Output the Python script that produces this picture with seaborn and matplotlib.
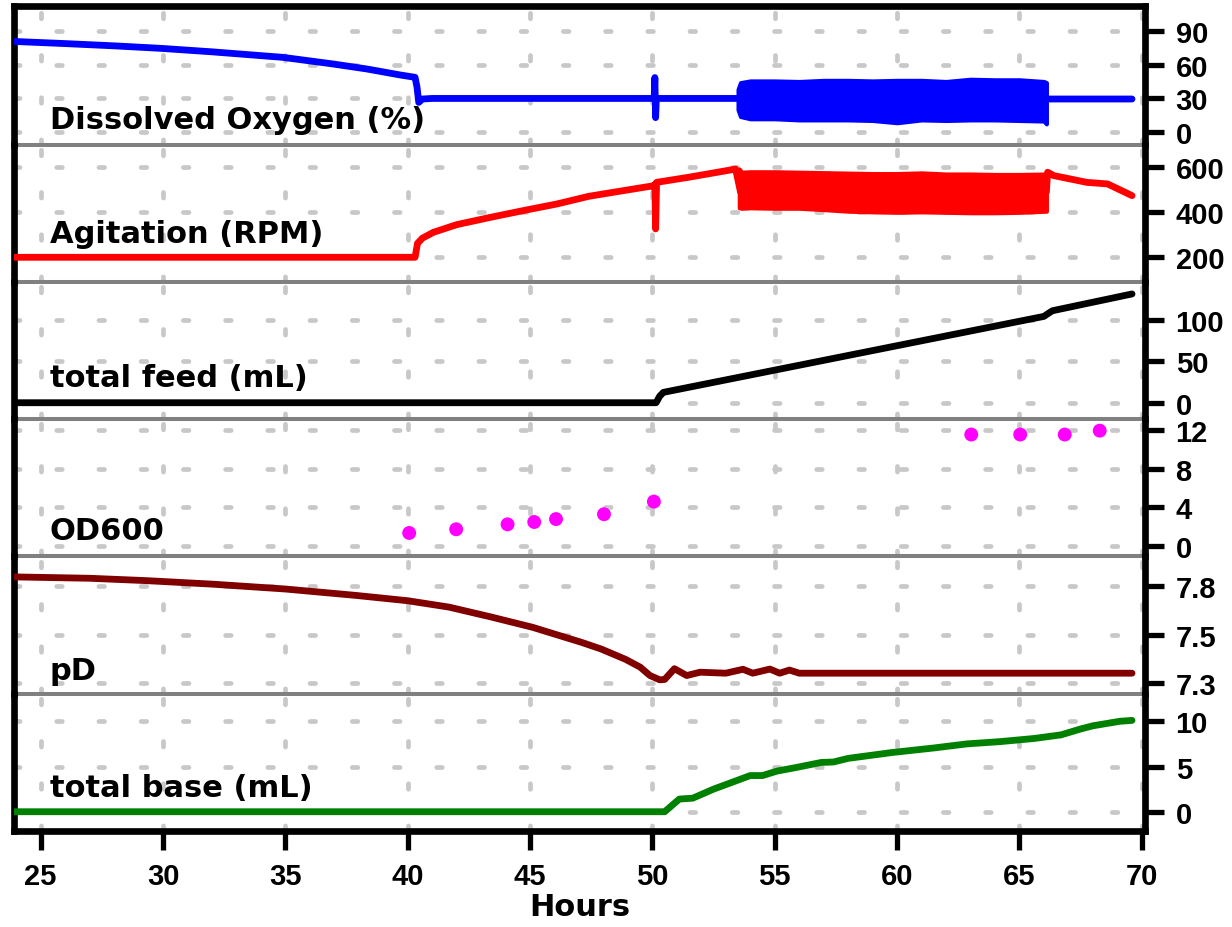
import numpy as np
import pandas as pd
import matplotlib
matplotlib.use("Agg")
import matplotlib.pyplot as plt
import seaborn as sns

# ---------------- data ----------------
x_ticks = [25, 30, 35, 40, 45, 50, 55, 60, 65, 70]
x_tick_labels = ["25", "30", "35", "40", "45", "50", "55", "60", "65", "70"]

# Dissolved oxygen (%)
do_hours = [23.9, 26.0, 28.0, 29.9, 32.0, 34.9, 36.96, 38.33, 39.69, 40.3, 40.38,
            40.45, 40.6, 41.0, 45.0, 50.07, 50.1, 50.13, 50.16, 53.5, 60.0, 66.1,
            66.2, 69.6]
do_values = [80.5, 78.6, 76.6, 74.4, 71.3, 66.4, 60.5, 56.1, 50.8, 48.7, 40.0,
             26.5, 29.5, 30.0, 30.0, 30.0, 48.5, 13.0, 30.0, 30.0, 30.0, 30.0,
             29.5, 29.5]
do_band_hours = [53.5, 53.6, 54, 55, 56, 57, 58, 59, 60, 61, 62, 63, 64, 65, 66.0, 66.1]
do_band_upper = [38, 44, 45.5, 45.5, 45, 46, 46, 45.5, 46, 46, 45, 47, 46.5, 46.5, 45, 44]
do_band_lower = [20, 14, 12, 12, 11, 11, 11, 10.5, 8.5, 11, 10.5, 11, 11, 10.5, 10, 7.5]

# Agitation (RPM)
agit_hours = [23.9, 40.3, 40.4, 40.6, 41.05, 42.0, 43.4, 44.7, 46.1, 47.4, 48.8,
              50.05, 50.1, 50.13, 50.17, 51.5, 53.4, 53.6, 60.0, 66.1, 66.15,
              66.4, 67.75, 68.6, 69.6]
agit_values = [200, 200, 262, 285, 311, 345, 378, 407, 437, 471, 496,
               518, 524, 326, 533, 556, 592, 490, 490, 490, 578,
               563, 533, 526, 474]
agit_band_hours = [53.55, 53.65, 54, 55, 56, 57, 58, 59, 60, 61, 62, 63, 64, 65, 66.1]
agit_band_upper = [592, 578, 580, 580, 578, 576, 574, 572, 572, 575, 570, 570, 568, 568, 570]
agit_band_lower = [420, 418, 420, 418, 418, 412, 405, 402, 400, 402, 400, 398, 398, 400, 405]

# total feed (mL)
feed_hours = [23.9, 50.15, 50.3, 50.45, 66.0, 66.2, 66.35, 69.6]
feed_values = [0, 0, 8, 12.5, 104, 108, 110.8, 131]

# OD600
od_hours = [40.06, 41.98, 44.08, 45.17, 46.06, 48.02, 50.06, 63.03, 65.03, 66.85, 68.28]
od_values = [1.37, 1.75, 2.26, 2.5, 2.8, 3.3, 4.6, 11.5, 11.5, 11.5, 11.9]

# pD
pd_hours = [23.9, 27.0, 29.3, 32.0, 35.0, 37.9, 40.0, 41.7, 43.4, 45.1, 47.1, 47.9,
            48.9, 49.5, 49.9, 50.3, 50.5, 50.9, 51.4, 51.95, 53.0, 53.7, 54.1,
            54.8, 55.2, 55.6, 56.0, 69.6]
pd_values = [7.845, 7.838, 7.826, 7.808, 7.783, 7.75, 7.723, 7.69, 7.64, 7.587, 7.51, 7.476,
             7.423, 7.383, 7.34, 7.318, 7.32, 7.375, 7.34, 7.357, 7.352, 7.372, 7.352,
             7.373, 7.352, 7.368, 7.352, 7.352]

# total base (mL)
base_hours = [23.9, 50.5, 51.1, 51.65, 52.5, 53.3, 54.0, 54.5, 55.1, 55.8, 56.9, 57.4,
              58.0, 59.8, 61.5, 62.85, 64.2, 65.6, 66.7, 67.5, 68.0, 69.1, 69.6]
base_values = [0, 0, 1.4, 1.5, 2.5, 3.3, 4.0, 4.0, 4.5, 4.85, 5.45, 5.5,
               5.9, 6.55, 7.05, 7.5, 7.75, 8.1, 8.5, 9.15, 9.5, 10.0, 10.1]

panel_labels = ["Dissolved Oxygen (%)", "Agitation (RPM)", "total feed (mL)",
                "OD600", "pD", "total base (mL)"]
do_ticks, do_tick_labels = [0, 30, 60, 90], ["0", "30", "60", "90"]
agit_ticks, agit_tick_labels = [200, 400, 600], ["200", "400", "600"]
feed_ticks, feed_tick_labels = [0, 50, 100], ["0", "50", "100"]
od_ticks, od_tick_labels = [0, 4, 8, 12], ["0", "4", "8", "12"]
pd_ticks, pd_tick_labels = [7.3, 7.55, 7.8], ["7.3", "7.5", "7.8"]
base_ticks, base_tick_labels = [0, 5, 10], ["0", "5", "10"]
x_label = "Hours"

# ---------------- style ----------------
sns.set_style("white")
plt.rcParams['font.family'] = ['DejaVu Sans']
plt.rcParams['text.color'] = 'black'
plt.rcParams['axes.labelcolor'] = 'black'
plt.rcParams['xtick.color'] = 'black'
plt.rcParams['ytick.color'] = 'black'
plt.rcParams['lines.scale_dashes'] = False
plt.rcParams['lines.dash_capstyle'] = 'round'
plt.rcParams['lines.solid_capstyle'] = 'round'
plt.rcParams['lines.solid_joinstyle'] = 'round'

fig = plt.figure(figsize=(12.32, 9.28), dpi=100)
fig.patch.set_facecolor('white')
gs = fig.add_gridspec(6, 1, left=14 / 1232, right=1145 / 1232,
                      top=1 - 7 / 928, bottom=1 - 832 / 928, hspace=0,
                      height_ratios=[139, 137, 137, 137, 137.7, 137.3])
axes = [fig.add_subplot(gs[i]) for i in range(6)]

LW = 4.9
tick_font = dict(family='Liberation Sans', weight='bold', size=21, color='black')

# ---------------- draw data ----------------
sns.lineplot(data=pd.DataFrame({"h": do_hours, "v": do_values}), x="h", y="v",
             ax=axes[0], color="#0000ff", linewidth=LW, estimator=None, sort=False, zorder=3)
axes[0].fill_between(do_band_hours, do_band_lower, do_band_upper, facecolor="#0000ff",
                     edgecolor="#0000ff", linewidth=3, zorder=3)

sns.lineplot(data=pd.DataFrame({"h": agit_hours, "v": agit_values}), x="h", y="v",
             ax=axes[1], color="#ff0000", linewidth=LW, estimator=None, sort=False, zorder=3)
axes[1].fill_between(agit_band_hours, agit_band_lower, agit_band_upper, facecolor="#ff0000",
                     edgecolor="#ff0000", linewidth=3, zorder=3)

sns.lineplot(data=pd.DataFrame({"h": feed_hours, "v": feed_values}), x="h", y="v",
             ax=axes[2], color="#000000", linewidth=LW, estimator=None, sort=False, zorder=3)

sns.scatterplot(data=pd.DataFrame({"h": od_hours, "v": od_values}), x="h", y="v",
                ax=axes[3], color="#ff00ff", s=100, edgecolor="none", zorder=3)

sns.lineplot(data=pd.DataFrame({"h": pd_hours, "v": pd_values}), x="h", y="v",
             ax=axes[4], color="#800000", linewidth=LW, estimator=None, sort=False, zorder=3)

sns.lineplot(data=pd.DataFrame({"h": base_hours, "v": base_values}), x="h", y="v",
             ax=axes[5], color="#008000", linewidth=LW, estimator=None, sort=False, zorder=3)

# ---------------- axes styling ----------------
ylims = [(-11.25, 111.9), (90.2, 699), (-19.6, 145.4), (-1.0, 13.1), (7.247, 7.952), (-2.13, 13.05)]
yticks = [do_ticks, agit_ticks, feed_ticks, od_ticks, pd_ticks, base_ticks]
yticklabels = [do_tick_labels, agit_tick_labels, feed_tick_labels, od_tick_labels,
               pd_tick_labels, base_tick_labels]
label_y = [0.122, 0.29, 0.243, 0.124, 0.107, 0.257]

for i, ax in enumerate(axes):
    ax.set_facecolor('none')
    ax.set_xlim(23.91, 70.13)
    ax.set_ylim(*ylims[i])
    ax.set_xticks(x_ticks)
    ax.set_yticks(yticks[i])
    ax.set_yticklabels(yticklabels[i], fontdict=tick_font)
    ax.yaxis.tick_right()
    ax.tick_params(axis='y', which='major', direction='out', length=14, width=3.8,
                   pad=8, colors='black', right=True, left=False)
    ax.grid(True, which='major', color='#c8c8c8', linewidth=3.4,
            linestyle=(0, (4.0, 26.4)))
    ax.set_axisbelow(True)
    ax.set_xlabel("")
    ax.set_ylabel("")
    for sp in ax.spines.values():
        sp.set_visible(True)
        sp.set_color('black')
        sp.set_linewidth(4.8)
    if i > 0:
        ax.spines['top'].set_visible(False)
    if i < 5:
        ax.spines['bottom'].set_color('#808080')
        ax.spines['bottom'].set_linewidth(2.9)
        ax.spines['bottom'].set_zorder(2.4)
        ax.tick_params(axis='x', length=0, labelbottom=False, bottom=False)
    else:
        ax.set_xticklabels(x_tick_labels, fontdict=tick_font)
        ax.tick_params(axis='x', direction='out', length=14, width=3.8, pad=8,
                       colors='black', bottom=True)
        ax.set_xlabel(x_label, fontsize=22, fontweight='bold', family='DejaVu Sans',
                      color='black', labelpad=2)
    ax.text(0.0318, label_y[i], panel_labels[i], transform=ax.transAxes,
            fontsize=22, fontweight='bold', family='DejaVu Sans', color='black',
            ha='left', va='baseline', zorder=6)

fig.savefig("out.png", dpi=100, facecolor='white')
